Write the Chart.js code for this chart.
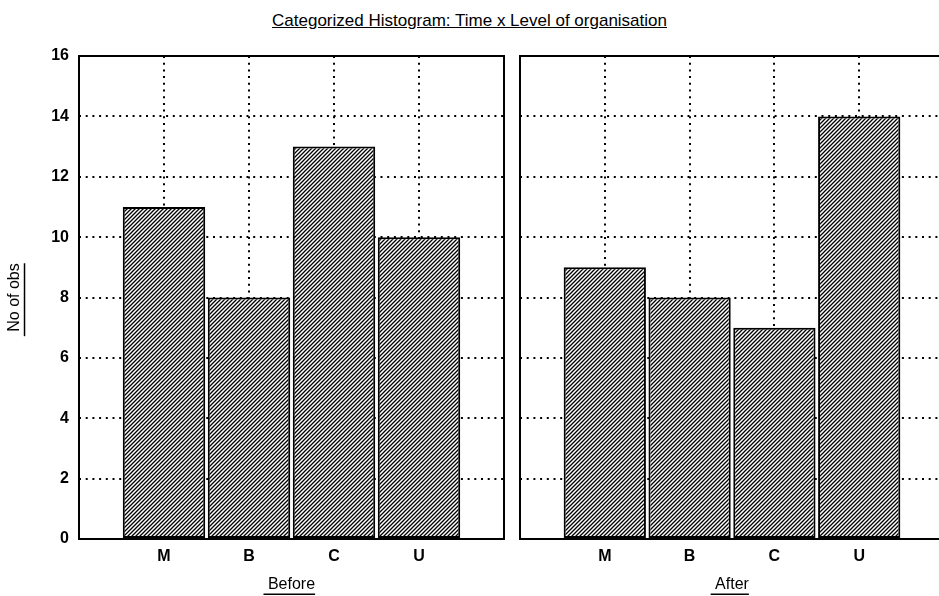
<!DOCTYPE html>
<html>
<head>
<meta charset="utf-8">
<script src="https://cdn.jsdelivr.net/npm/chart.js@4.4.1/dist/chart.umd.min.js"></script>
<style>
html, body { margin: 0; padding: 0; background: #fff; overflow: hidden; width: 939px; height: 596px; }
#title { position: absolute; left: 0; top: 11px; width: 939px; text-align: center;
  font: 17px Arial, "Liberation Sans", sans-serif; color: #000; text-decoration: underline; }
#before { position: absolute; left: 0; top: 0; }
#after { position: absolute; left: 512px; top: 0; }
</style>
</head>
<body>
<div id="title">Categorized Histogram: Time x Level of organisation</div>
<canvas id="before" width="512" height="596"></canvas>
<canvas id="after" width="440" height="596"></canvas>
<script>
// data
var categories = ['M', 'B', 'C', 'U'];
var beforeCounts = [11, 8, 13, 10];
var afterCounts = [9, 8, 7, 14];
var yMin = 0, yMax = 16, yStep = 2;
var yTitle = 'No of obs';

var FONT = 'Arial, "Liberation Sans", sans-serif';

// diagonal hatch fill like the old Statistica bars
function hatch(ctx) {
    var c = document.createElement('canvas');
    c.width = 4; c.height = 4;
    var g = c.getContext('2d');
    g.fillStyle = '#fff';
    g.fillRect(0, 0, 4, 4);
    g.strokeStyle = '#000';
    g.lineWidth = 1.3;
    g.beginPath();
    g.moveTo(-1, 5); g.lineTo(5, -1);
    g.moveTo(-1, 1); g.lineTo(1, -1);
    g.moveTo(3, 5); g.lineTo(5, 3);
    g.stroke();
    return ctx.createPattern(c, 'repeat');
}

// thick box round the plot area
var frame = {
    id: 'frame',
    afterDraw: function(chart) {
        var a = chart.chartArea, c = chart.ctx;
        c.save();
        c.strokeStyle = '#000';
        c.lineWidth = 2;
        c.strokeRect(a.left, a.top, a.right - a.left, a.bottom - a.top);
        c.restore();
    }
};

// axis titles are underlined (with a leading space) in the original
var underline = {
    id: 'underline',
    afterDraw: function(chart) {
        var c = chart.ctx;
        Object.keys(chart.scales).forEach(function(k) {
            var s = chart.scales[k];
            var t = s.options.title;
            if (!t.display) return;
            var size = t.font.size, lh = size * 1.2;
            c.save();
            c.font = size + 'px ' + FONT;
            var w = c.measureText(t.text).width;
            var lead = c.measureText(' ').width;
            c.strokeStyle = '#000';
            c.lineWidth = 1.5;
            c.beginPath();
            if (s.isHorizontal()) {
                var cx = (s.left + s.right) / 2;
                var y = s.bottom - t.padding.bottom - lh / 2 + size * 0.62;
                c.moveTo(cx - w / 2 - lead, y);
                c.lineTo(cx + w / 2, y);
            } else {
                var cy = (s.top + s.bottom) / 2;
                var x = s.left + t.padding.top + lh / 2 + size * 0.62;
                c.moveTo(x, cy + w / 2 + lead);
                c.lineTo(x, cy - w / 2);
            }
            c.stroke();
            c.restore();
        });
    }
};

function dotted(edgeTest) {
    return function(ctx) {
        return edgeTest(ctx) ? 'rgba(0,0,0,0)' : '#000';
    };
}

function makePanel(id, counts, xTitle, showY) {
    var ctx = document.getElementById(id).getContext('2d');
    var labels = [''].concat(categories, ['']);
    return new Chart(ctx, {
        type: 'bar',
        data: {
            labels: labels,
            datasets: [{
                data: [null].concat(counts, [null]),
                backgroundColor: hatch(ctx),
                borderColor: '#000',
                borderWidth: 2,
                borderSkipped: false,
                categoryPercentage: 1,
                barPercentage: 0.97
            }]
        },
        options: {
            responsive: false,
            animation: false,
            layout: { padding: { top: 56, left: showY ? 0 : 5, right: showY ? 5 : 7, bottom: 0 } },
            plugins: {
                legend: { display: false },
                tooltip: { enabled: false }
            },
            scales: {
                x: {
                    offset: false,
                    grid: {
                        offset: false,
                        drawTicks: false,
                        lineWidth: 2,
                        color: dotted(function(c) { return c.index === 0 || c.index === labels.length - 1; })
                    },
                    border: { display: false, dash: [2, 4.7] },
                    ticks: {
                        autoSkip: false, maxRotation: 0, padding: 8, color: '#000',
                        font: { family: FONT, size: 16, weight: 'bold' }
                    },
                    title: {
                        display: true, text: xTitle, color: '#000',
                        font: { family: FONT, size: 16 },
                        padding: { top: 0, bottom: 2 }
                    },
                    afterFit: function(s) { s.height = 57; }
                },
                y: {
                    min: yMin, max: yMax,
                    grid: {
                        drawTicks: false,
                        lineWidth: 2,
                        color: dotted(function(c) { return c.tick.value === yMin || c.tick.value === yMax; })
                    },
                    border: { display: false, dash: [2, 4.7] },
                    ticks: {
                        display: showY, stepSize: yStep, padding: 10, color: '#000',
                        font: { family: FONT, size: 16, weight: 'bold' }
                    },
                    title: {
                        display: showY, text: yTitle, color: '#000',
                        font: { family: FONT, size: 16 },
                        padding: { top: 5, bottom: 0 }
                    },
                    afterFit: function(s) { s.width = showY ? 79 : 0; }
                }
            }
        },
        plugins: [frame, underline]
    });
}

makePanel('before', beforeCounts, 'Before', true);
makePanel('after', afterCounts, 'After', false);
</script>
</body>
</html>
